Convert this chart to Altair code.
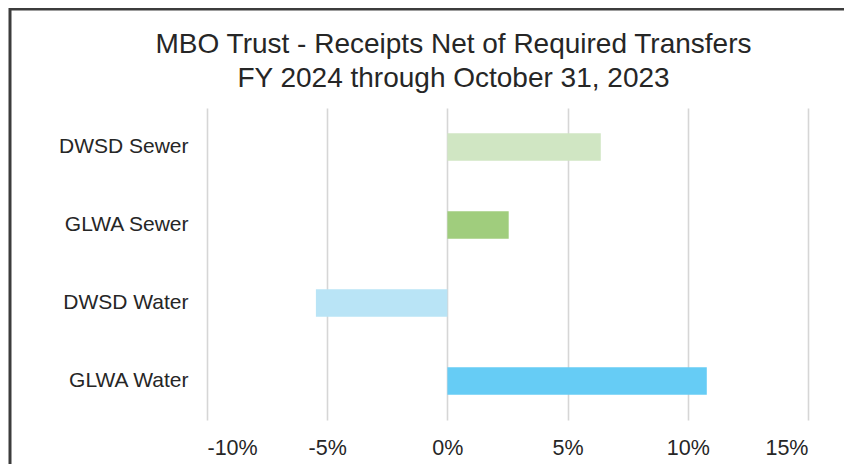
import altair as alt
import pandas as pd

categories = ["DWSD Sewer", "GLWA Sewer", "DWSD Water", "GLWA Water"]
values = [0.0638, 0.0255, -0.0547, 0.1079]
colors = ["#d0e6c3", "#a0cd7d", "#b9e4f6", "#66ccf5"]
tick_values = [-0.10, -0.05, 0.0, 0.05, 0.10, 0.15]
title_lines = ["MBO Trust - Receipts Net of Required Transfers",
               "FY 2024 through  October 31, 2023"]

df = pd.DataFrame({"cat": categories, "val": values, "color": colors})

FONT = "Liberation Sans"
TXT = "#262626"

bars = alt.Chart(df).mark_bar().encode(
    y=alt.Y("cat:N", sort=categories,
            scale=alt.Scale(paddingInner=0.65, paddingOuter=0.325),
            axis=alt.Axis(title=None, ticks=False, domain=False,
                          labelFont=FONT, labelFontSize=21, labelColor=TXT,
                          labelPadding=19)),
    x=alt.X("val:Q",
            scale=alt.Scale(domain=[-0.10, 0.15], nice=False, zero=False),
            axis=alt.Axis(title=None, values=tick_values,
                          labelExpr="round(datum.value * 100) + '%'",
                          ticks=False, domain=False,
                          grid=True, gridColor="#d6d6d6", gridWidth=1.6,
                          labelFont=FONT, labelFontSize=21.5, labelColor=TXT,
                          labelPadding=17)),
    color=alt.Color("color:N", scale=None, legend=None),
)

one = pd.DataFrame({"a": [0]})
left_edge = alt.Chart(one).mark_rule(color="#3c3c3c", strokeWidth=3).encode(
    x=alt.value(-197), y=alt.value(-100), y2=alt.value(356),
)
top_edge = alt.Chart(one).mark_rule(color="#3c3c3c", strokeWidth=3).encode(
    x=alt.value(-198), x2=alt.value(637), y=alt.value(-99),
)

chart = alt.layer(bars, left_edge, top_edge).properties(
    width=601, height=312,
    autosize="none",
    padding={"left": 199, "top": 100, "right": 36, "bottom": 44},
    title=alt.TitleParams(
        text=title_lines, font=FONT, fontSize=28, fontWeight="normal",
        color=TXT, anchor="middle", frame="group", dx=-54,
        lineHeight=34, offset=0, dy=86,
    ),
).configure_view(stroke=None)

chart.save("out.html", embed_options={"renderer": "svg", "actions": False})
